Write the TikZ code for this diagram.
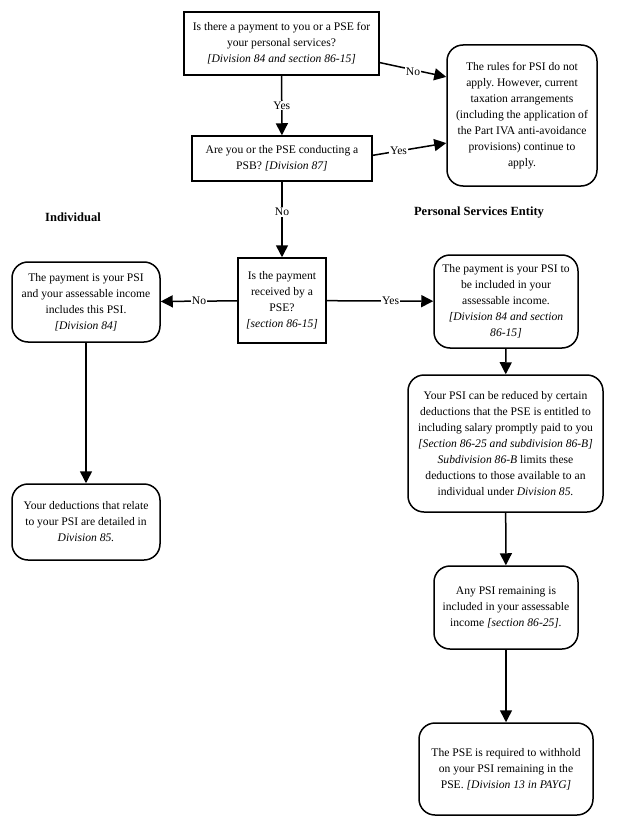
\documentclass[tikz,border=0pt]{standalone}
\usepackage{fontspec}
\setmainfont{Liberation Serif}
\usetikzlibrary{arrows.meta}

\begin{document}
\frenchspacing
\begin{tikzpicture}[x=1pt, y=1pt,
    every node/.style={font=\fontsize{11.6}{16}\selectfont},
    question/.style={draw=borderColour, line width=1.5pt, align=center, inner sep=2pt},
    outcome/.style={draw=borderColour, line width=1.5pt, rounded corners=16pt, align=center, inner sep=2pt},
    heading/.style={font=\fontsize{12.5}{14}\selectfont\bfseries},
    flow/.style={line width=1.5pt, -{Triangle[length=12pt, width=12pt]}},
    answer/.style={fill=white, inner sep=1pt}]
    % Define colours
    \definecolor{borderColour}{HTML}{000000}

    % Fix page size
    \useasboundingbox (0,0) rectangle (616,-829);

    % Draw the questions
    \node[question, minimum width=195pt, minimum height=63pt] (payment) at (281.5,-43.5)
        {Is there a payment to you or a PSE for\\ your personal services?\\ \textit{[Division 84 and section 86-15]}};
    \node[question, minimum width=180pt, minimum height=45pt] (business) at (282,-158.5)
        {Are you or the PSE conducting a\\ PSB? \textit{[Division 87]}};
    \node[question, minimum width=88pt, minimum height=85pt] (received) at (282,-300.5)
        {Is the payment\\ received by a\\ PSE?\\ \textit{[section 86-15]}};

    % Draw the outcome when the rules do not apply
    \node[outcome, minimum width=150pt, minimum height=141pt] (rules) at (522,-115.5)
        {The rules for PSI do not\\ apply. However, current\\ taxation arrangements\\ (including the application of\\ the Part IVA anti-avoidance\\ provisions) continue to\\ apply.};

    % Column headings
    \node[heading] (indivHead) at (73,-217) {Individual};
    \node[heading] (pseHead) at (479,-213) {Personal Services Entity};

    % Draw the individual column
    \node[outcome, minimum width=148pt, minimum height=80pt] (indivIncome) at (86,-302)
        {The payment is your PSI\\ and your assessable income\\ includes this PSI.\\ \textit{[Division 84]}};
    \node[outcome, minimum width=148pt, minimum height=76pt] (indivDeduct) at (86,-522)
        {Your deductions that relate\\ to your PSI are detailed in\\ \textit{Division 85.}};

    % Draw the PSE column
    \node[outcome, minimum width=144pt, minimum height=93pt] (pseIncome) at (506,-301.5)
        {The payment is your PSI to\\ be included in your\\ assessable income.\\ \textit{[Division 84 and section}\\ \textit{86-15]}};
    \node[outcome, minimum width=195pt, minimum height=137pt] (pseReduce) at (505.5,-443.5)
        {Your PSI can be reduced by certain\\ deductions that the PSE is entitled to\\ including salary promptly paid to you\\ \textit{[Section 86-25 and subdivision 86-B]}\\ \textit{Subdivision 86-B} limits these\\ deductions to those available to an\\ individual under \textit{Division 85.}};
    \node[outcome, minimum width=144pt, minimum height=83pt] (pseRemain) at (506,-607.5)
        {Any PSI remaining is\\ included in your assessable\\ income \textit{[section 86-25].}};
    \node[outcome, minimum width=174pt, minimum height=92pt] (pseWithhold) at (506,-769)
        {The PSE is required to withhold\\ on your PSI remaining in the\\ PSE. \textit{[Division 13 in PAYG]}};

    % Draw the connectors
    \draw[flow] (payment.-11) -- node[answer, pos=0.5, below=-4pt] {No} (rules.153);
    \draw[flow] (payment) -- node[answer] {Yes} (business);
    \draw[flow] (business.2) -- node[answer, pos=0.35] {Yes} (rules.200);
    \draw[flow] (business) -- node[answer, pos=0.4] {No} (received);
    \draw[flow] (received) -- node[answer] {No} (indivIncome);
    \draw[flow] (received) -- node[answer, pos=0.6] {Yes} (pseIncome);
    \draw[flow] (indivIncome) -- (indivDeduct);
    \draw[flow] (pseIncome) -- (pseReduce);
    \draw[flow] (pseReduce) -- (pseRemain);
    \draw[flow] (pseRemain) -- (pseWithhold);

\end{tikzpicture}
\end{document}
